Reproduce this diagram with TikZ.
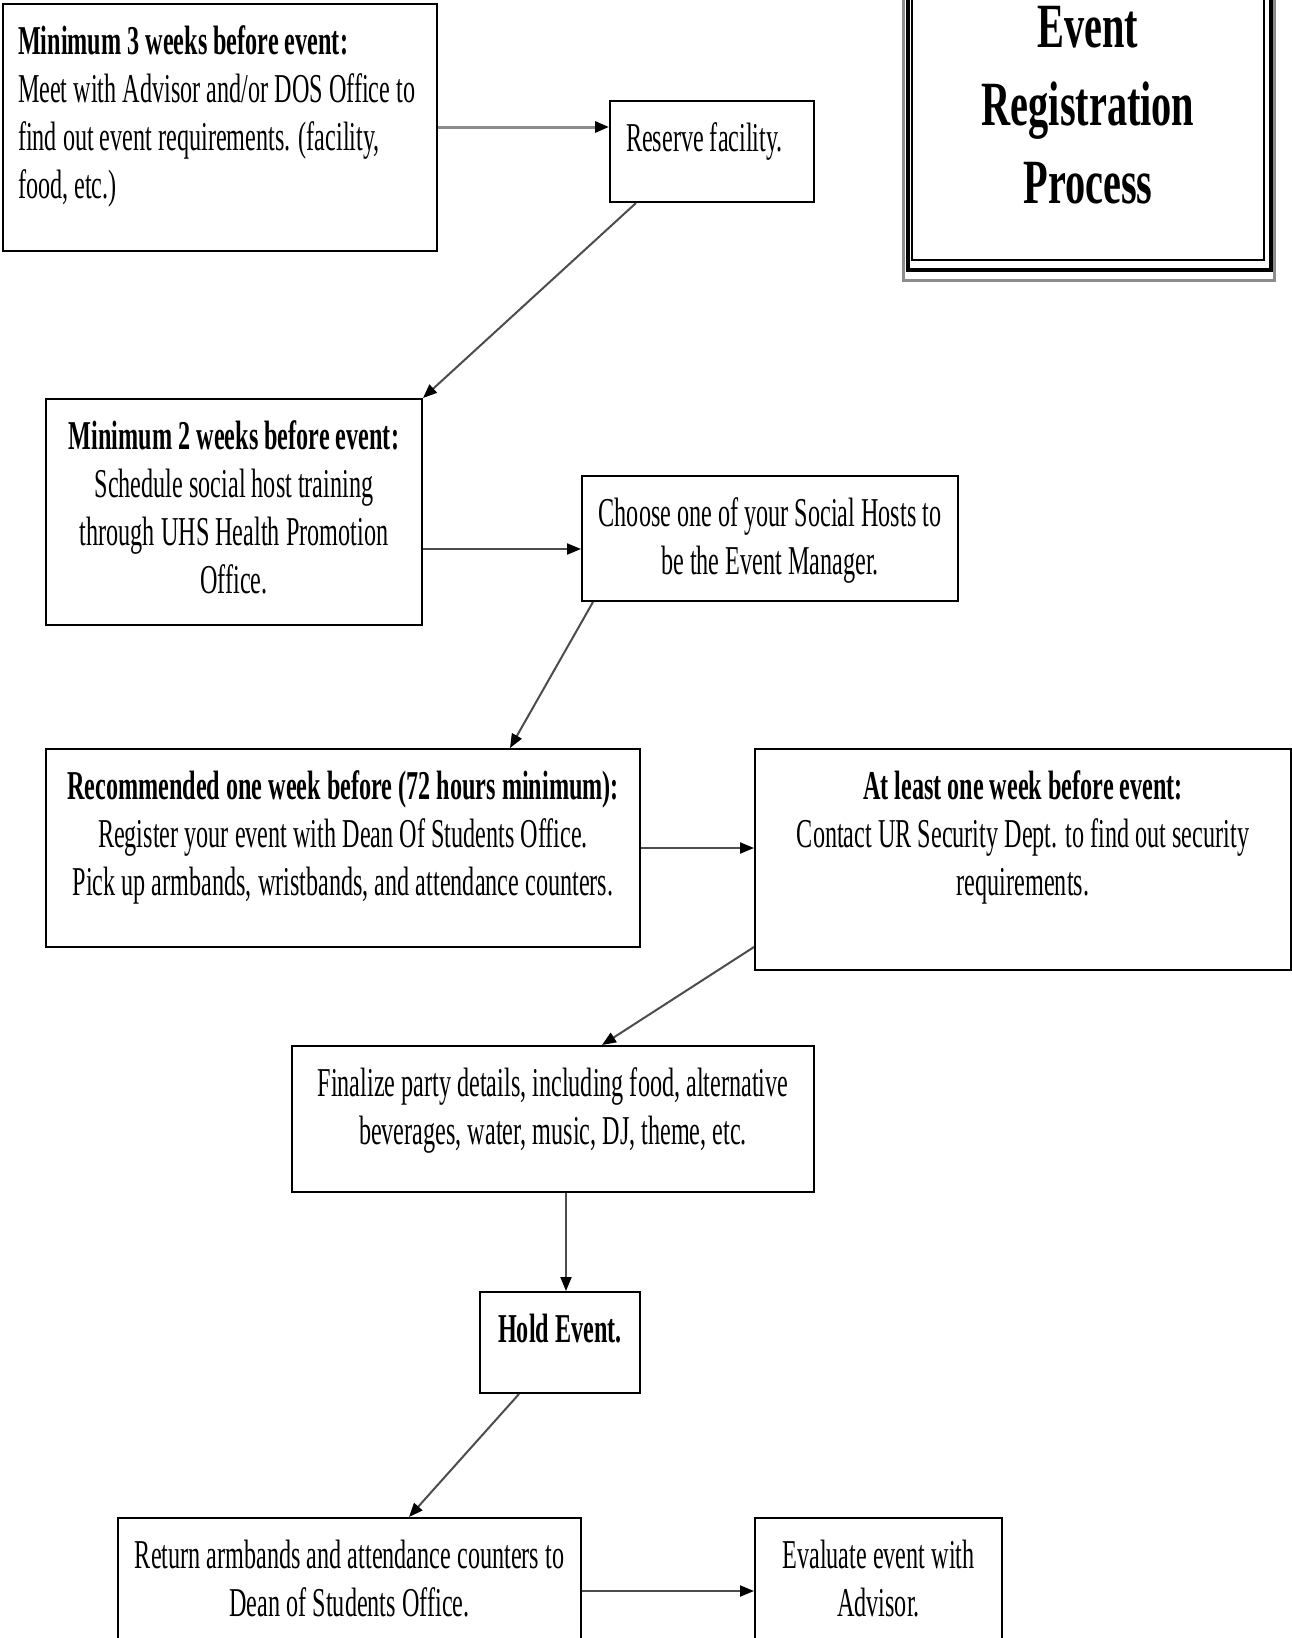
\documentclass[tikz,border=0pt]{standalone}
\usepackage{fontspec}
\setmainfont{Liberation Serif}[FakeStretch=0.59]
\newfontfamily\titlefont{Liberation Serif}[FakeStretch=0.64]
\usetikzlibrary{arrows.meta, calc}
\newcommand{\bodyfont}{\fontsize{41pt}{48pt}\selectfont}
\newcommand{\headfont}{\titlefont\bfseries\fontsize{63pt}{78pt}\selectfont}
% box text: width, height, text (top aligned)
\newcommand{\stagetext}[3]{\parbox[c][#2pt][t]{#1pt}{\rule{0pt}{50pt}#3}}

\begin{document}
\begin{tikzpicture}[x=1pt, y=-1pt,
  stage/.style={draw, line width=2pt, anchor=north west, inner sep=0pt, font=\bodyfont},
  arr/.style={line width=2pt, draw=black!70, -{Triangle[length=14pt, width=11pt, color=black]}},
]
  \useasboundingbox (0,0) rectangle (1291,1638);

  % title frame
  \draw[black!45, line width=3pt] (903.5,-20) rectangle (1274.5,280);
  \draw[black, line width=4pt] (907.5,-20) rectangle (1270.5,270);
  \draw[black, line width=1.5pt] (912,-20) rectangle (1264,260);
  \node[font=\headfont, align=center, inner sep=0pt, anchor=north] (title) at (1088,0)
    {\rule{0pt}{47pt}Event\\Registration\\Process};

  \node[stage] (three) at (2,3) {\stagetext{434}{247}{\raggedright\leftskip=15pt
    \textbf{Minimum 3 weeks before event:}\\
    Meet with Advisor and/or DOS Office to\\
    find out event requirements. (facility,\\
    food, etc.)}};

  \node[stage] (reserve) at (609,100) {\stagetext{204}{101}{\raggedright\leftskip=16pt
    Reserve facility.}};

  \node[stage] (two) at (45,398) {\stagetext{376}{226}{\centering
    \textbf{Minimum 2 weeks before event:}\\
    Schedule social host training\\
    through UHS Health Promotion\\
    Office.}};

  \node[stage] (choose) at (581,475) {\stagetext{376}{125}{\centering
    Choose one of your Social Hosts to\\
    be the Event Manager.}};

  \node[stage] (register) at (45,748) {\stagetext{594}{198}{\centering
    \textbf{Recommended one week before (72 hours minimum):}\\
    Register your event with Dean Of Students Office.\\
    Pick up armbands, wristbands, and attendance counters.}};

  \node[stage] (security) at (754,748) {\stagetext{536}{221}{\centering
    \textbf{At least one week before event:}\\
    Contact UR Security Dept. to find out security\\
    requirements.}};

  \node[stage] (finalize) at (291,1045) {\stagetext{522}{146}{\centering
    Finalize party details, including food, alternative\\
    beverages, water, music, DJ, theme, etc.}};

  \node[stage] (hold) at (479,1291) {\stagetext{160}{101}{\centering
    \textbf{Hold Event.}}};

  \node[stage] (return) at (117,1517) {\stagetext{463}{146}{\centering
    Return armbands and attendance counters to\\
    Dean of Students Office.}};

  \node[stage] (evaluate) at (754,1517) {\stagetext{247}{146}{\centering
    Evaluate event with\\
    Advisor.}};

  % connectors
  \coordinate (reserve-in) at ($(reserve.west)+(0,-24.5)$);
  \coordinate (choose-in) at ($(choose.west)+(0,10.5)$);
  \draw[arr, draw=black!45, line width=3pt] (three.east |- reserve-in) -- (reserve-in);
  \draw[arr] ($(reserve.south west)+(27,0)$) -- (two.north east);
  \draw[arr] (two.east |- choose-in) -- (choose-in);
  \draw[arr] ($(choose.south west)+(12,0)$) -- ($(register.north west)+(465,0)$);
  \draw[arr] (register.east) -- (register.east -| security.west);
  \draw[arr] ($(security.south west)+(0,-24)$) -- ($(finalize.north west)+(311,0)$);
  \draw[arr] ($(finalize.south west)+(275,0)$) -- ($(hold.north west)+(87,0)$);
  \draw[arr] ($(hold.south west)+(40,0)$) -- ($(return.north west)+(292,0)$);
  \draw[arr] (return.east) -- (return.east -| evaluate.west);
\end{tikzpicture}
\end{document}
